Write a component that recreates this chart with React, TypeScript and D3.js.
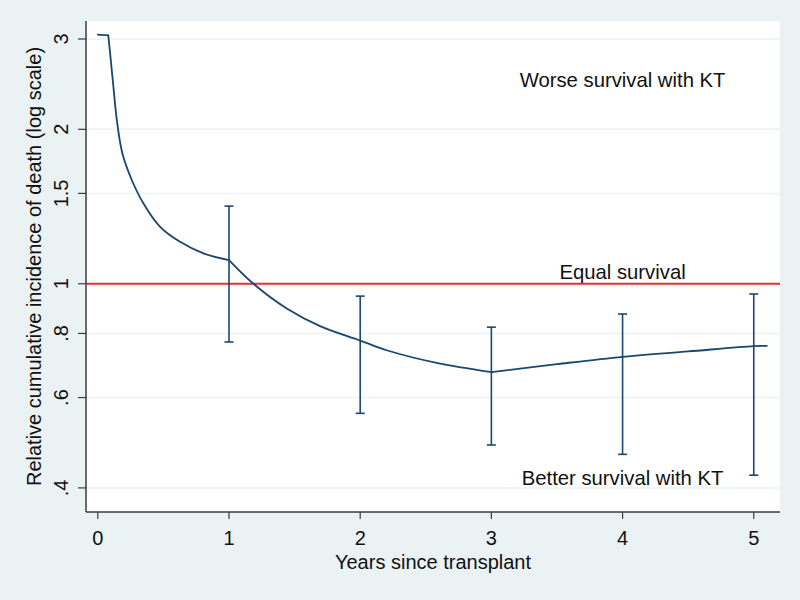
import React from "react";
import * as d3 from "d3";

// Relative cumulative incidence of death curve (years since transplant, ratio)
const curveYears = [0, 0.08, 0.094, 0.119, 0.145, 0.187, 0.259, 0.347, 0.475, 0.627, 0.805, 1.0, 1.186, 1.44, 1.694, 2.0, 2.202, 2.583, 3.0, 3.5, 4.0, 4.5, 5.0, 5.1];
const curveValues = [3.06, 3.05, 2.81, 2.42, 2.085, 1.796, 1.593, 1.435, 1.291, 1.207, 1.146, 1.112, 1.0, 0.895, 0.827, 0.775, 0.742, 0.701, 0.6725, 0.697, 0.7204, 0.738, 0.7558, 0.757];
// Years where the curve has a corner (piecewise segments)
const curveBreaks = [0.08, 1, 3];

// Confidence intervals at yearly points
const ciYears = [1, 2, 3, 4, 5];
const ciLower = [0.77, 0.559, 0.485, 0.465, 0.4235];
const ciUpper = [1.417, 0.946, 0.823, 0.873, 0.955];

// Axis ticks
const xTicks = [0, 1, 2, 3, 4, 5];
const yTicks = [0.4, 0.6, 0.8, 1, 1.5, 2, 3];
const yTickLabels = [".4", ".6", ".8", "1", "1.5", "2", "3"];

// Annotations
const annotTexts = ["Worse survival with KT", "Equal survival", "Better survival with KT"];
const annotX = [4, 4, 4];
const annotY = [2.5, 1.053, 0.419];

const W = 800;
const H = 600;
const left = 86;
const right = 780;
const top = 21;
const bottom = 512;

const NAVY = "#1a476f";
const BG = "#eaf2f3";
const FONT = "'Liberation Sans', Arial, sans-serif";

export default function App() {
  const x = d3.scaleLinear().domain([-0.09, 5.2]).range([left, right]);
  const y = d3.scaleLog().domain([0.359, 3.252]).range([bottom, top]);

  const pts = curveYears.map((t, i) => [t, curveValues[i]] as [number, number]);
  const line = d3
    .line<[number, number]>()
    .x((d) => x(d[0]))
    .y((d) => y(d[1]))
    .curve(d3.curveCatmullRom.alpha(0.5));

  // split into segments at corner years
  const bounds = [curveYears[0], ...curveBreaks, curveYears[curveYears.length - 1]];
  const segments: [number, number][][] = [];
  for (let s = 0; s < bounds.length - 1; s++) {
    segments.push(pts.filter((p) => p[0] >= bounds[s] && p[0] <= bounds[s + 1]));
  }

  const cap = 4.5;

  return (
    <svg
      width={W}
      height={H}
      style={{ position: "absolute", left: 0, top: 0, display: "block" }}
      fontFamily={FONT}
    >
      <rect x={0} y={0} width={W} height={H} fill={BG} />
      <rect x={left} y={top} width={right - left} height={bottom - top} fill="#ffffff" />

      {/* gridlines */}
      {yTicks.map((v, i) => (
        <line key={"g" + i} x1={left} x2={right} y1={y(v)} y2={y(v)} stroke={BG} strokeWidth={1.5} />
      ))}

      {/* reference line at 1 */}
      <line x1={left} x2={right} y1={y(1)} y2={y(1)} stroke="#e8302a" strokeWidth={2} />

      {/* CI bars */}
      {ciYears.map((t, i) => (
        <g key={"ci" + i} stroke={NAVY} strokeWidth={1.6}>
          <line x1={x(t)} x2={x(t)} y1={y(ciLower[i])} y2={y(ciUpper[i])} />
          <line x1={x(t) - cap} x2={x(t) + cap} y1={y(ciLower[i])} y2={y(ciLower[i])} />
          <line x1={x(t) - cap} x2={x(t) + cap} y1={y(ciUpper[i])} y2={y(ciUpper[i])} />
        </g>
      ))}

      {/* curve */}
      {segments.map((seg, i) => (
        <path
          key={"c" + i}
          d={line(seg) || ""}
          fill="none"
          stroke={NAVY}
          strokeWidth={1.8}
          strokeLinejoin="round"
          strokeLinecap="round"
        />
      ))}

      {/* axes */}
      <line x1={left} x2={left} y1={top} y2={bottom} stroke="#3c3c3c" strokeWidth={1.5} />
      <line x1={left} x2={right} y1={bottom} y2={bottom} stroke="#3c3c3c" strokeWidth={1.5} />

      {yTicks.map((v, i) => (
        <g key={"yt" + i}>
          <line x1={left - 8} x2={left} y1={y(v)} y2={y(v)} stroke="#3c3c3c" strokeWidth={1.2} />
          <text
            transform={`translate(${left - 18},${y(v)}) rotate(-90)`}
            textAnchor="middle"
            fontSize={20}
            fill="#111"
          >
            {yTickLabels[i]}
          </text>
        </g>
      ))}

      {xTicks.map((t, i) => (
        <g key={"xt" + i}>
          <line x1={x(t)} x2={x(t)} y1={bottom} y2={bottom + 7} stroke="#3c3c3c" strokeWidth={1.2} />
          <text x={x(t)} y={545} textAnchor="middle" fontSize={20} fill="#111">
            {t}
          </text>
        </g>
      ))}

      {/* axis titles */}
      <text x={(left + right) / 2} y={569} textAnchor="middle" fontSize={20} fill="#111">
        Years since transplant
      </text>
      <text
        transform={`translate(41,${(top + bottom) / 2}) rotate(-90)`}
        textAnchor="middle"
        fontSize={20}
        fill="#111"
      >
        Relative cumulative incidence of death (log scale)
      </text>

      {/* annotations */}
      {annotTexts.map((s, i) => (
        <text
          key={"a" + i}
          x={x(annotX[i])}
          y={y(annotY[i])}
          dy="0.35em"
          textAnchor="middle"
          fontSize={20.3}
          fill="#111"
        >
          {s}
        </text>
      ))}
    </svg>
  );
}
